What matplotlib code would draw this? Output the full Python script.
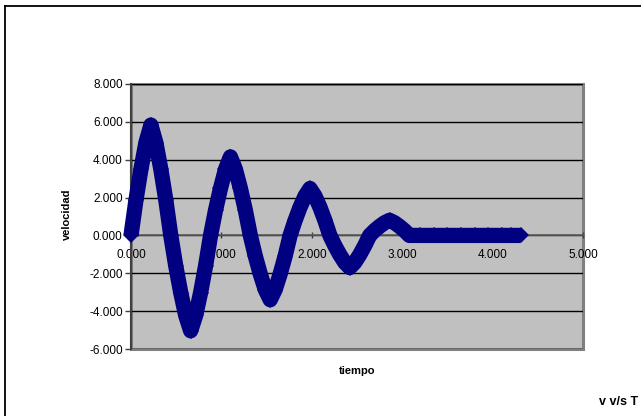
import numpy as np
import matplotlib.pyplot as plt
from matplotlib.lines import Line2D

plt.rcParams['font.family'] = ['Liberation Sans', 'DejaVu Sans']

# tiempo (s) y velocidad
tiempo = [0.000, 0.055, 0.110, 0.165, 0.220, 0.275, 0.330, 0.385, 0.440,
          0.495, 0.550, 0.605, 0.660, 0.715, 0.770, 0.825, 0.880,
          0.935, 0.990, 1.045, 1.100, 1.155, 1.210, 1.265, 1.320,
          1.375, 1.430, 1.485, 1.540, 1.595, 1.650, 1.705, 1.760,
          1.815, 1.870, 1.925, 1.980, 2.035, 2.090, 2.145, 2.200,
          2.255, 2.310, 2.365, 2.420, 2.475, 2.530, 2.585, 2.640,
          2.695, 2.750, 2.805, 2.860, 2.915, 2.970, 3.025, 3.080,
          3.200, 3.350, 3.500, 3.650, 3.800, 3.950, 4.100, 4.200, 4.310]
velocidad = [0.00, 1.87, 3.50, 4.90, 5.83, 4.90, 3.50, 1.87, 0.00,
             -1.61, -3.02, -4.23, -5.04, -4.23, -3.02, -1.61, 0.00,
             1.33, 2.49, 3.49, 4.15, 3.49, 2.49, 1.33, 0.00,
             -1.09, -2.04, -2.86, -3.40, -2.86, -2.04, -1.09, 0.00,
             0.79, 1.49, 2.08, 2.48, 2.08, 1.49, 0.79, 0.00,
             -0.54, -1.02, -1.43, -1.70, -1.43, -1.02, -0.54, 0.00,
             0.26, 0.48, 0.67, 0.80, 0.67, 0.48, 0.26, 0.00,
             0.00, 0.00, 0.00, 0.00, 0.00, 0.00, 0.00, 0.00, 0.00]

xticks = [0, 1, 2, 3, 4, 5]
yticks = [-6, -4, -2, 0, 2, 4, 6, 8]

fig = plt.figure(figsize=(6.41, 4.16), dpi=100)
ax = fig.add_axes([131 / 641, 67 / 416, 452 / 641, 265 / 416])

ax.set_facecolor('#C0C0C0')
ax.patch.set_edgecolor('#808080')
ax.patch.set_linewidth(2.2)
for s in ['top', 'right']:
    ax.spines[s].set_visible(False)
ax.spines['left'].set_color('#404040')
ax.spines['left'].set_linewidth(1.5)
ax.spines['bottom'].set_position(('data', 0))
ax.spines['bottom'].set_color('#606060')
ax.spines['bottom'].set_linewidth(1.2)

ax.set_xlim(0, 5)
ax.set_ylim(-6, 8)
ax.set_xticks(xticks)
ax.set_yticks(yticks)
ax.set_xticklabels(['%.3f' % v for v in xticks])
ax.set_yticklabels(['%.3f' % v for v in yticks])
ax.tick_params(axis='x', direction='inout', length=5, width=1, color='#404040',
               labelsize=8.5, pad=7)
ax.tick_params(axis='y', direction='out', length=4, width=1, color='#404040',
               labelsize=8.5, pad=2)
ax.yaxis.grid(True, color='black', linewidth=1)
ax.set_axisbelow(True)

ax.plot(tiempo, velocidad, color='#000080', linewidth=11,
        solid_joinstyle='round', solid_capstyle='butt',
        marker='D', markersize=8.5, markeredgewidth=0, clip_on=False, zorder=3)

fig.text(67 / 641, 1 - 214 / 416, 'velocidad', rotation=90, ha='center', va='center',
         fontsize=8, fontweight='bold')
fig.text(357 / 641, 1 - 371 / 416, 'tiempo', ha='center', va='center',
         fontsize=8, fontweight='bold')
fig.text(638 / 641, 1 - 402 / 416, 'v v/s T', ha='right', va='center',
         fontsize=9, fontweight='bold')

# marco del gráfico
fig.add_artist(Line2D([5 / 641, 1], [1 - 6 / 416, 1 - 6 / 416], color='black', linewidth=1.3))
fig.add_artist(Line2D([5 / 641, 5 / 641], [0, 1 - 6 / 416], color='black', linewidth=1.3))

fig.savefig('out.png', dpi=100)
